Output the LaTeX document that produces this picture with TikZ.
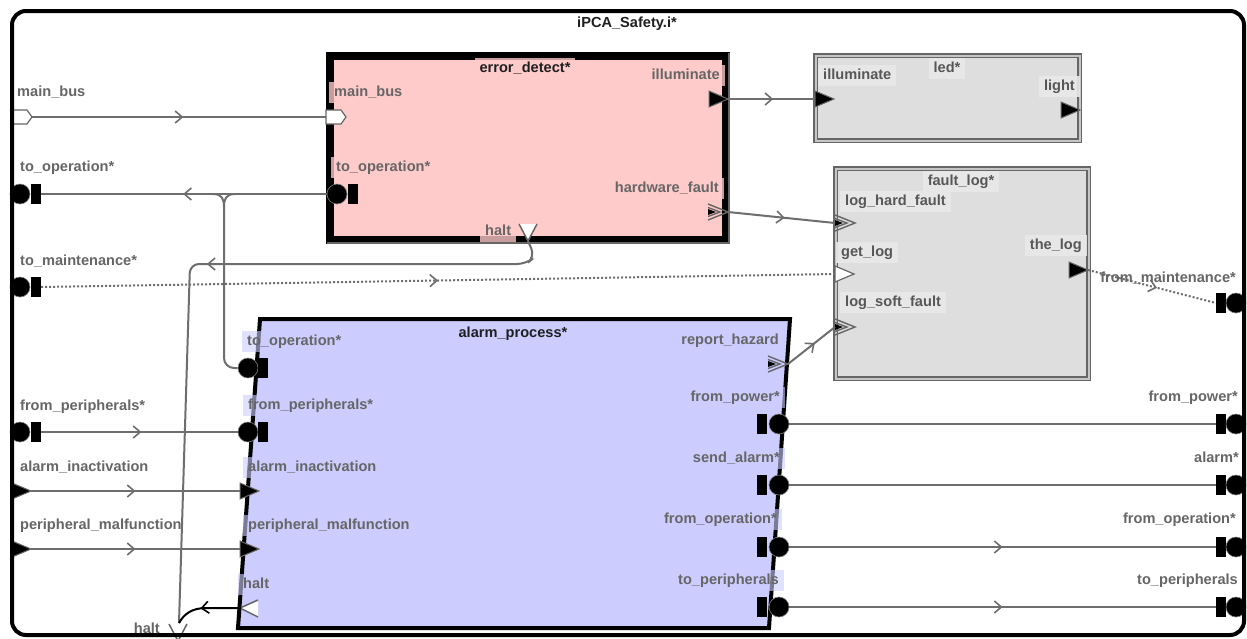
\documentclass[tikz,border=0pt]{standalone}
\usepackage{fontspec}
\setmainfont{Liberation Sans}
\usetikzlibrary{arrows.meta,decorations.markings}
\definecolor{pinkfill}{HTML}{FFCACA}
\definecolor{lavfill}{HTML}{CCCCFF}
\definecolor{boxgray}{HTML}{DEDEDE}
\definecolor{lblgray}{HTML}{666666}
\definecolor{conngray}{HTML}{6E6E6E}
\definecolor{edgegray}{HTML}{666666}
\newcommand\pentport[2]{%
  \filldraw[fill=white, draw=edgegray, line width=1.2pt, line join=miter] (#1,#2-7) -- (#1+15,#2-7) -- (#1+20,#2) -- (#1+15,#2+7) -- (#1,#2+7) -- cycle;}
\newcommand\trport[2]{%
  \filldraw[fill=black, draw=edgegray, line width=1pt, line join=miter] (#1,#2-8) -- (#1+19,#2) -- (#1,#2+8) -- cycle;}
\newcommand\wtrport[2]{%
  \filldraw[fill=white, draw=edgegray, line width=1.2pt, line join=miter] (#1,#2-8) -- (#1+19,#2) -- (#1,#2+8) -- cycle;}
\newcommand\chport[2]{%
  \draw[edgegray, line width=1.4pt, line join=miter] (#1,#2-8) -- (#1+20,#2) -- (#1,#2+8);
  \draw[edgegray, line width=1.4pt, line join=miter] (#1,#2-4.5) -- (#1+12,#2) -- (#1,#2+4.5);
  \fill[black] (#1,#2-3) -- (#1+8,#2) -- (#1,#2+3) -- cycle;}
\newcommand\vport[2]{%
  \fill[white] (#1-9,#2) -- (#1,#2+17) -- (#1+9,#2) -- cycle;
  \draw[edgegray, line width=1.5pt] (#1-9,#2) -- (#1,#2+17) -- (#1+9,#2);}
\begin{document}
\begin{tikzpicture}[x=1pt,y=-1pt,
  lbl/.style={font=\fontsize{14.6}{16}\selectfont\bfseries, text=lblgray, inner xsep=5pt, inner ysep=4pt, text height=10.5pt, text depth=3pt, yshift=-1.5pt},
  ttl/.style={lbl, text=black!88},
  edl/.style={lbl, fill=pinkfill, fill opacity=0.78, text opacity=1},
  edt/.style={edl, text=black!88},
  apl/.style={lbl, fill=lavfill, fill opacity=0.6, text opacity=1},
  apt/.style={apl, text=black!88},
  gbl/.style={lbl, fill=boxgray!70!white, fill opacity=0.9, text opacity=1, text=lblgray!85!black},
  gbox/.style={draw=edgegray, double=gray!45, line width=1.5pt, double distance=2pt, fill=boxgray, inner sep=0pt},
  conn/.style={draw=conngray, line width=2pt},
  dotconn/.style={conn, dash pattern=on 2pt off 2pt},
  midarr/.style={postaction={decorate}, decoration={markings, mark=at position #1 with {\arrow{Straight Barb[length=7pt,width=12pt,line width=1.6pt]}}}},
  midarr/.default=0.5,
  pcirc/.style={circle, fill=black, draw=gray, line width=0.6pt, minimum size=20pt, inner sep=0pt},
  pbar/.style={rectangle, fill=black, minimum width=10pt, minimum height=20pt, inner sep=0pt},
]
\path[fill=white, use as bounding box] (0,0) rectangle (1247,638);

% ---------- components ----------
\node[draw=black, line width=8pt, fill=pinkfill, minimum width=396pt, minimum height=184pt, inner sep=0pt] (errdet) at (528,148) {};
\draw[edgegray, line width=1.5pt] (729,53) -- (729,243) -- (327,243);
\node[gbox, minimum width=264pt, minimum height=85pt] (led) at (947.5,98) {};
\node[gbox, minimum width=253pt, minimum height=210pt] (flog) at (962,273.5) {};
\filldraw[fill=lavfill, draw=black, line width=4pt, line join=miter] (260,319) -- (790,319) -- (769,628) -- (238,628) -- cycle;

% ---------- ports ----------
% outer left
\pentport{12}{117}  \coordinate (omb) at (32,117);
\node[pcirc] (otopc) at (20,194) {}; \node[pbar] (otopb) at (36,194) {};
\node[pcirc] (otmc) at (20,287) {}; \node[pbar] (otmb) at (36,287) {};
\node[pcirc] (ofpc) at (20,432) {}; \node[pbar] (ofpb) at (36,432) {};
\trport{12}{491} \coordinate (oai) at (31,491);
\trport{12}{549} \coordinate (opm) at (31,549);
\vport{178}{624} \coordinate (ohalt) at (179,623);
% outer right
\node[pbar] (ofmb) at (1221,303) {}; \node[pcirc] (ofmc) at (1236,303) {};
\node[pbar] (ofpwb) at (1221,424) {}; \node[pcirc] (ofpwc) at (1236,424) {};
\node[pbar] (oalb) at (1221,485) {}; \node[pcirc] (oalc) at (1236,485) {};
\node[pbar] (ofob) at (1221,547) {}; \node[pcirc] (ofoc) at (1236,547) {};
\node[pbar] (otpb) at (1221,607) {}; \node[pcirc] (otpc) at (1236,607) {};
% error_detect
\pentport{326}{117} \coordinate (edmb) at (326,117);
\node[pcirc] (edtopc) at (337,194) {}; \node[pbar] (edtopb) at (353,194) {};
\trport{709}{99} \coordinate (edill) at (728,99);
\chport{708}{212} \coordinate (edhf) at (728,212);
\vport{528}{224} \coordinate (edhalt) at (528,241);
% led
\trport{815}{99} \coordinate (ledill) at (815,99);
\trport{1061}{110}
% fault_log
\chport{835}{223} \coordinate (flhf) at (835,223);
\wtrport{835}{274} \coordinate (flgl) at (835,274);
\chport{835}{327} \coordinate (flsf) at (835,327);
\trport{1069}{270} \coordinate (flthe) at (1088,270);
% alarm_process
\node[pcirc] (aptopc) at (248,368) {}; \node[pbar] (aptopb) at (263,368) {};
\node[pcirc] (apfpc) at (248,432) {}; \node[pbar] (apfpb) at (263,432) {};
\trport{240}{491} \coordinate (apai) at (240,491);
\trport{240}{549} \coordinate (appm) at (240,549);
\fill[white] (258,600) -- (240,608) -- (258,617) -- cycle;
\draw[edgegray, line width=1.5pt] (258,600) -- (240,608) -- (258,617);
\coordinate (aphalt) at (241,608);
\chport{768}{364} \coordinate (aprh) at (788,364);
\node[pbar] (apfpwb) at (762,424) {}; \node[pcirc] (apfpwc) at (779,424) {};
\node[pbar] (apsab) at (762,485) {}; \node[pcirc] (apsac) at (779,485) {};
\node[pbar] (apfob) at (762,547) {}; \node[pcirc] (apfoc) at (779,547) {};
\node[pbar] (aptpb) at (762,607) {}; \node[pcirc] (aptpc) at (779,607) {};

% ---------- connectors ----------
\draw[conn, midarr=0.515] (omb) -- (edmb);
\draw[conn, midarr=0.503] (edtopc.west) -- (otopb.east);
\coordinate (fk) at (224,207);
\draw[conn] (213,194) .. controls (222,194) and (224,199) .. (fk);
\draw[conn] (235,194) .. controls (226,194) and (224,199) .. (fk);
\draw[conn, rounded corners=10pt] (fk) -- (224,368) -- (aptopc.west);
\draw[conn, rounded corners=9pt, midarr=0.49] (edhalt) -- (535,257) -- (526,264) -- (190,264) -- (ohalt);
\draw[black, line width=2pt, midarr=0.6] (aphalt) -- (206,608) .. controls (192,608) and (184,614) .. (ohalt);
\draw[dotconn, midarr=0.5] (otmb.east) -- (flgl);
\draw[conn, midarr=0.51] (ofpb.east) -- (apfpc.west);
\draw[conn, midarr=0.5] (oai) -- (apai);
\draw[conn, midarr=0.5] (opm) -- (appm);
\draw[conn, midarr=0.52] (edill) -- (ledill);
\draw[conn, midarr=0.53] (edhf) -- (flhf);
\draw[conn, midarr=0.57] (aprh) -- (flsf);
\draw[dotconn, midarr=0.54] (flthe) -- (ofmb.west);
\draw[conn] (apfpwc.east) -- (ofpwb.west);
\draw[conn] (apsac.east) -- (oalb.west);
\draw[conn, midarr=0.5] (apfoc.east) -- (ofob.west);
\draw[conn, midarr=0.5] (aptpc.east) -- (otpb.west);

% ---------- outer frame ----------
\draw[line width=4pt, rounded corners=14pt] (12,11) rectangle (1244,635);

% ---------- labels ----------
\node[ttl] (t-main) at (627,22) {iPCA\_Safety.i*};
\node[lbl, anchor=west] (l-omb) at (12,91) {main\_bus};
\node[lbl, anchor=west] (l-otop) at (15,166) {to\_operation*};
\node[lbl, anchor=west] (l-otm) at (15,260) {to\_maintenance*};
\node[lbl, anchor=west] (l-ofp) at (15,405) {from\_peripherals*};
\node[lbl, anchor=west] (l-oai) at (15,466) {alarm\_inactivation};
\node[lbl, anchor=west] (l-opm) at (15,524) {peripheral\_malfunction};
\node[lbl, anchor=east] (l-ohalt) at (165,628) {halt};
\node[lbl, anchor=east] (l-ofm) at (1241,277) {from\_maintenance*};
\node[lbl, anchor=east] (l-ofpw) at (1243,396) {from\_power*};
\node[lbl, anchor=east] (l-oal) at (1244,457) {alarm*};
\node[lbl, anchor=east] (l-ofo) at (1241,518) {from\_operation*};
\node[lbl, anchor=east] (l-otp) at (1243,579) {to\_peripherals};

\node[edt] (t-ed) at (525,67) {error\_detect*};
\node[edl, anchor=west] (l-edmb) at (329,91) {main\_bus};
\node[edl, anchor=west] (l-edtop) at (331,166) {to\_operation*};
\node[edl, anchor=east] (l-edill) at (725,74) {illuminate};
\node[edl, anchor=east] (l-edhf) at (724,187) {hardware\_fault};
\node[edl, anchor=west] (l-edhalt) at (480,230) {halt};

\node[gbl] (t-led) at (947,67) {led*};
\node[gbl, anchor=west] (l-ledill) at (818,74) {illuminate};
\node[gbl, anchor=east] (l-ledlight) at (1080,85) {light};

\node[gbl] (t-fl) at (961,180) {fault\_log*};
\node[gbl, anchor=west] (l-flhf) at (840,200) {log\_hard\_fault};
\node[gbl, anchor=west] (l-flgl) at (836,251) {get\_log};
\node[gbl, anchor=west] (l-flsf) at (840,301) {log\_soft\_fault};
\node[gbl, anchor=east] (l-flthe) at (1087,244) {the\_log};

\node[apt] (t-ap) at (513,332) {alarm\_process*};
\node[apl, anchor=west] (l-aptop) at (242,340) {to\_operation*};
\node[apl, anchor=west] (l-apfp) at (243,404) {from\_peripherals*};
\node[apl, anchor=west] (l-apai) at (243,466) {alarm\_inactivation};
\node[apl, anchor=west] (l-appm) at (243,524) {peripheral\_malfunction};
\node[apl, anchor=west] (l-aphalt) at (238,583) {halt};
\node[apl, anchor=east] (l-aprh) at (784,339) {report\_hazard};
\node[apl, anchor=east] (l-apfpw) at (785,396) {from\_power*};
\node[apl, anchor=east] (l-apsa) at (785,457) {send\_alarm*};
\node[apl, anchor=east] (l-apfo) at (782,518) {from\_operation*};
\node[apl, anchor=east] (l-aptp) at (784,579) {to\_peripherals};
\end{tikzpicture}
\end{document}
